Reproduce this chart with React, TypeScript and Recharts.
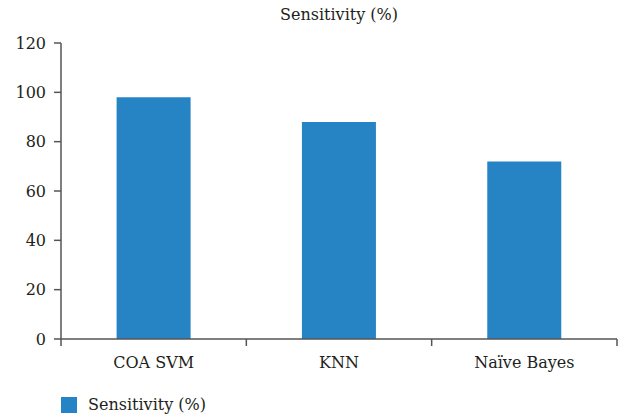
import React from "react";
import { BarChart, Bar, XAxis, YAxis, Customized } from "recharts";

const categories = ["COA SVM", "KNN", "Naïve Bayes"];
const sensitivity = [98, 88, 72];
const yTicks = [0, 20, 40, 60, 80, 100, 120];
const seriesName = "Sensitivity (%)";

const data = categories.map((c, i) => ({ name: c, value: sensitivity[i] }));

const W = 627;
const H = 419;
const M = { top: 43, right: 10, bottom: 50, left: 0 };
const Y_W = 61;
const PLOT_W = W - M.left - M.right - Y_W;
const BAND = PLOT_W / categories.length;
const FONT = "'DejaVu Serif', serif";
const AXIS = "#555";
const TEXT = "#231f20";
const BLUE = "#2784C4";

const XTick = (props: any) => {
  const { x, y, payload, index } = props;
  return (
    <g>
      <line x1={x + BAND / 2} x2={x + BAND / 2} y1={y - 8} y2={y - 1} stroke={AXIS} strokeWidth={1.5} />
      {index === 0 && (
        <line x1={x - BAND / 2} x2={x - BAND / 2} y1={y - 8} y2={y - 1} stroke={AXIS} strokeWidth={1.5} />
      )}
      <text x={x} y={y + 21} textAnchor="middle" style={{ fontFamily: FONT, fontSize: 16 }} fill={TEXT}>
        {payload.value}
      </text>
    </g>
  );
};

const Title = () => (
  <text x={M.left + Y_W + PLOT_W / 2} y={20} textAnchor="middle" style={{ fontFamily: FONT, fontSize: 16 }} fill={TEXT}>
    {seriesName}
  </text>
);

export default function App() {
  return (
    <div style={{ position: "absolute", left: 0, top: 0, width: W, height: H, background: "#fff" }}>
      <BarChart width={W} height={H} data={data} margin={M} barCategoryGap="30%">
        <XAxis
          dataKey="name"
          tickLine={false}
          axisLine={{ stroke: AXIS, strokeWidth: 1.5 }}
          tick={<XTick />}
          interval={0}
        />
        <YAxis
          width={Y_W}
          domain={[0, 120]}
          ticks={yTicks}
          tickSize={7}
          tickLine={{ stroke: AXIS, strokeWidth: 1.5 }}
          axisLine={{ stroke: AXIS, strokeWidth: 1.5 }}
          tick={{ style: { fontFamily: FONT, fontSize: 16 }, fill: TEXT }}
          tickMargin={8}
        />
        <Bar dataKey="value" name={seriesName} fill={BLUE} isAnimationActive={false} />
        <Customized component={Title} />
      </BarChart>
      <div
        style={{
          position: "absolute",
          left: 61,
          top: 395,
          display: "flex",
          alignItems: "center",
          fontFamily: FONT,
          fontSize: 16,
          color: TEXT,
        }}
      >
        <div style={{ width: 16, height: 16, background: BLUE, marginRight: 11 }} />
        <span>{seriesName}</span>
      </div>
    </div>
  );
}
